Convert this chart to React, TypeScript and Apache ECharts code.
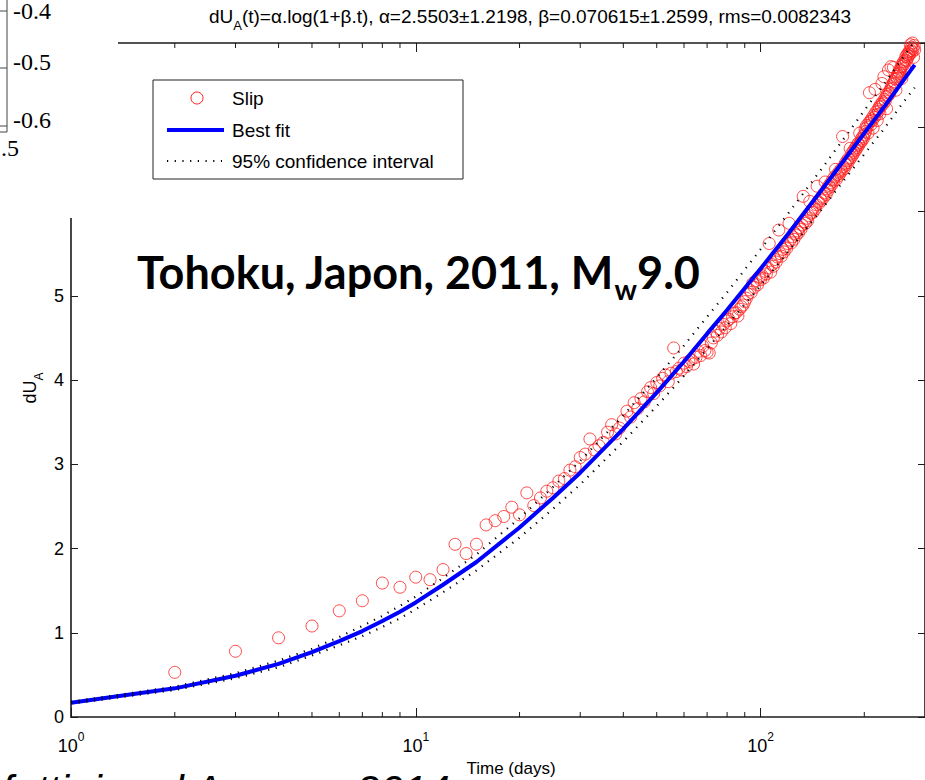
import React, { useEffect, useRef } from 'react';
import * as echarts from 'echarts';

const SANS = "'Liberation Sans', Arial, Helvetica, sans-serif";
const SERIF = "'Liberation Serif', 'Times New Roman', serif";

// Slip observations, one per day starting at day 2
const slipFirstDay = 2;
const slipValues = [
  0.53, 0.78, 0.94, 1.08, 1.26, 1.38, 1.59, 1.54, 1.66,
  1.63, 1.75, 2.05, 1.94, 2.05, 2.28, 2.33, 2.38, 2.49, 2.40,
  2.66, 2.51, 2.60, 2.68, 2.72, 2.80, 2.83, 2.93, 2.97, 3.08,
  3.12, 3.30, 3.17, 3.22, 3.26, 3.38, 3.47, 3.36, 3.43, 3.52,
  3.63, 3.56, 3.73, 3.66, 3.78, 3.74, 3.86, 3.91, 3.84, 3.97,
  3.93, 4.02, 4.06, 3.98, 4.08, 4.38, 4.10, 4.14, 4.12, 4.20,
  4.16, 4.22, 4.24, 4.19, 4.27, 4.34, 4.29, 4.40, 4.35, 4.33,
  4.32, 4.44, 4.50, 4.58, 4.53, 4.61, 4.57, 4.66, 4.62, 4.70,
  4.72, 4.67, 4.75, 4.79, 4.80, 4.76, 4.84, 4.87, 4.89, 4.93,
  4.97, 5.02, 5.07, 5.04, 5.15, 5.10, 5.18, 5.13, 5.22, 5.19,
  5.24, 5.21, 5.29, 5.26, 5.33, 5.62, 5.28, 5.37, 5.35, 5.43,
  5.40, 5.46, 5.78, 5.50, 5.47, 5.55, 5.52, 5.58, 5.56, 5.62,
  5.86, 5.66, 5.63, 5.70, 5.67, 5.74, 5.72, 5.77, 5.75, 5.81,
  5.79, 5.84, 6.18, 5.88, 5.86, 5.92, 5.89, 5.95, 6.12, 5.98,
  6.02, 5.99, 6.05, 6.03, 6.08, 6.30, 6.12, 6.10, 6.15, 6.13,
  6.18, 6.16, 6.22, 6.35, 6.20, 6.27, 6.25, 6.31, 6.29, 6.34,
  6.32, 6.38, 6.36, 6.41, 6.50, 6.38, 6.44, 6.42, 6.47, 6.45,
  6.50, 6.48, 6.89, 6.53, 6.51, 6.57, 6.55, 6.60, 6.58, 6.63,
  6.61, 6.75, 6.64, 6.69, 6.67, 6.72, 6.70, 6.75, 6.73, 6.78,
  6.76, 6.81, 6.79, 6.93, 6.82, 6.86, 6.84, 6.89, 6.87, 6.91,
  6.98, 6.95, 7.02, 7.00, 6.93, 7.05, 7.41, 7.07, 7.03, 7.10,
  7.08, 6.99, 7.14, 7.12, 7.45, 7.18, 7.15, 7.08, 7.21, 7.19,
  7.24, 7.16, 7.27, 7.25, 7.52, 7.30, 7.28, 7.60, 7.33, 7.31,
  7.36, 7.22, 7.39, 7.37, 7.68, 7.42, 7.40, 7.45, 7.72, 7.48,
  7.46, 7.51, 7.71, 7.54, 7.52, 7.57, 7.44, 7.60, 7.58, 7.63,
  7.61, 7.66, 7.64, 7.69, 7.67, 7.72, 7.58, 7.75, 7.73, 7.78,
  7.76, 7.70, 7.80, 7.84, 7.79, 7.86, 7.82, 7.88, 7.85, 7.90,
  7.87, 7.98, 7.91, 7.95, 7.89, 8.00, 7.93, 7.83, 7.97, 7.92,
];

// Best fit and 95% confidence interval curves
const fitDays = [1, 2, 3, 4, 5, 6, 7, 8, 9, 10, 12, 15, 20, 25, 30, 40, 50, 60, 70, 80, 100, 120, 150, 180, 200, 230, 260, 280];
const fitValues = [0.17, 0.34, 0.49, 0.63, 0.77, 0.90, 1.02, 1.14, 1.25, 1.36, 1.57, 1.84, 2.25, 2.60, 2.90, 3.42, 3.85, 4.22, 4.55, 4.83, 5.32, 5.73, 6.25, 6.68, 6.93, 7.26, 7.56, 7.74];
const ciUpper = [0.18, 0.36, 0.52, 0.67, 0.81, 0.95, 1.08, 1.20, 1.32, 1.43, 1.65, 1.93, 2.36, 2.73, 3.04, 3.58, 4.03, 4.41, 4.75, 5.04, 5.55, 5.97, 6.50, 6.94, 7.20, 7.53, 7.84, 8.02];
const ciLower = [0.16, 0.32, 0.46, 0.59, 0.73, 0.85, 0.96, 1.07, 1.17, 1.28, 1.48, 1.74, 2.13, 2.47, 2.76, 3.27, 3.69, 4.05, 4.37, 4.65, 5.12, 5.52, 6.02, 6.44, 6.68, 7.00, 7.30, 7.47];

// Axis settings
const xMin = 1;
const xMax = 300;
const yMin = 0;
const yMax = 8;
const yLabelMax = 5;
const xMinorTicks = [2, 3, 4, 5, 6, 7, 8, 9, 20, 30, 40, 50, 60, 70, 80, 90, 200];

// Inset figure fragment (top-left)
const insetTickLabels = ['-0.4', '-0.5', '-0.6'];
const insetTickY = [11, 68, 126];
const insetLabelY = [11, 62, 120];

const titleMain = 'dU';
const titleSub = 'A';
const titleRest = '(t)=\u03b1.log(1+\u03b2.t), \u03b1=2.5503\u00b11.2198, \u03b2=0.070615\u00b11.2599, rms=0.0082343';
const legendLabels = ['Slip', 'Best fit', '95% confidence interval'];

export default function App() {
  const ref = useRef<HTMLDivElement>(null);

  useEffect(() => {
    if (!ref.current) return;
    const chart = echarts.init(ref.current, undefined, { renderer: 'svg' });

    const slipData = slipValues.map((v, i) => [slipFirstDay + i, v]);
    const fitData = fitDays.map((d, i) => [d, fitValues[i]]);
    const upData = fitDays.map((d, i) => [d, ciUpper[i]]);
    const loData = fitDays.map((d, i) => [d, ciLower[i]]);
    const minorData = xMinorTicks.map((d) => [d, 0]);

    const axisColor = '#1a1a1a';
    const dotted = [1.2, 6.5];
    const xLabelFormatter = (v: number) => {
      const e = Math.round(Math.log10(v));
      if (Math.abs(Math.pow(10, e) - v) > 1e-6) return '';
      return `{b|10}{s|${e}}`;
    };

    const minorTickRender = (top: boolean) => (params: any, api: any) => {
      const p = api.coord([api.value(0), top ? yMax : yMin]);
      const len = 5;
      return {
        type: 'line',
        shape: { x1: p[0], y1: p[1], x2: p[0], y2: top ? p[1] + len : p[1] - len },
        style: { stroke: axisColor, lineWidth: 1 },
      };
    };

    const baseX = {
      type: 'log',
      logBase: 10,
      min: xMin,
      max: xMax,
      splitLine: { show: false },
      axisLine: { show: true, onZero: false, lineStyle: { color: axisColor, width: 1.6 } },
      axisTick: { show: true, inside: true, length: 9, lineStyle: { color: axisColor, width: 1 } },
    };
    const baseY = {
      type: 'value',
      min: yMin,
      max: yMax,
      interval: 1,
      splitLine: { show: false },
      axisLine: { show: true, onZero: false, lineStyle: { color: axisColor, width: 1.6 } },
      axisTick: { show: true, inside: true, length: 7, lineStyle: { color: axisColor, width: 1 } },
    };

    const legendX = 153;
    const legendY = 80;

    chart.setOption({
      animation: false,
      backgroundColor: '#ffffff',
      grid: { left: 71, top: 43, width: 858, height: 674, containLabel: false },
      xAxis: [
        {
          ...baseX,
          position: 'bottom',
          axisLabel: {
            show: true,
            margin: 14,
            showMaxLabel: false,
            formatter: xLabelFormatter,
            rich: {
              b: { fontSize: 18, fontFamily: SANS, color: '#000', verticalAlign: 'top', lineHeight: 20, padding: [6, 0, 0, 0] },
              s: { fontSize: 12, fontFamily: SANS, color: '#000', verticalAlign: 'top', lineHeight: 14 },
            },
          },
        },
        { ...baseX, position: 'top', axisLabel: { show: false } },
      ],
      yAxis: [
        {
          ...baseY,
          position: 'left',
          axisLabel: {
            show: true,
            margin: 7,
            fontSize: 18,
            fontFamily: SANS,
            color: '#000',
            formatter: (v: number) => (v <= yLabelMax ? String(v) : ''),
          },
        },
        { ...baseY, position: 'right', axisLabel: { show: false } },
      ],
      series: [
        {
          name: 'Slip',
          type: 'scatter',
          data: slipData,
          symbol: 'circle',
          symbolSize: 12,
          itemStyle: { color: 'rgba(0,0,0,0)', borderColor: '#ff1f1f', borderWidth: 1 },
          z: 2,
        },
        {
          name: 'Best fit',
          type: 'line',
          data: fitData,
          showSymbol: false,
          lineStyle: { color: '#0000ff', width: 4 },
          z: 3,
        },
        {
          name: 'CI upper',
          type: 'line',
          data: upData,
          showSymbol: false,
          lineStyle: { color: '#000', width: 2.2, type: dotted },
          z: 4,
        },
        {
          name: 'CI lower',
          type: 'line',
          data: loData,
          showSymbol: false,
          lineStyle: { color: '#000', width: 2.2, type: dotted },
          z: 4,
        },
        { type: 'custom', data: minorData, renderItem: minorTickRender(false), z: 5, silent: true },
        { type: 'custom', data: minorData, renderItem: minorTickRender(true), z: 5, silent: true },
      ],
      graphic: [
        // Title
        {
          type: 'text',
          x: 530,
          y: 7,
          z: 100,
          style: {
            text: `{m|${titleMain}}{s|${titleSub}}{m|${titleRest}}`,
            align: 'center',
            verticalAlign: 'top',
            rich: {
              m: { fontSize: 19, fontFamily: SANS, fill: '#000', color: '#000', lineHeight: 22, verticalAlign: 'top' },
              s: { fontSize: 13, fontFamily: SANS, fill: '#000', color: '#000', lineHeight: 22, verticalAlign: 'top', padding: [12, 0, 0, 0] },
            },
          },
        },
        // Legend box
        {
          type: 'rect',
          z: 100,
          shape: { x: legendX, y: legendY, width: 310, height: 99 },
          style: { fill: '#fff', stroke: '#222', lineWidth: 1 },
        },
        {
          type: 'circle',
          z: 101,
          shape: { cx: 197, cy: 98, r: 6 },
          style: { fill: 'none', stroke: '#ff1f1f', lineWidth: 1 },
        },
        {
          type: 'line',
          z: 101,
          shape: { x1: 167, y1: 130, x2: 224, y2: 130 },
          style: { stroke: '#0000ff', lineWidth: 4 },
        },
        {
          type: 'line',
          z: 101,
          shape: { x1: 167, y1: 161, x2: 222, y2: 161 },
          style: { stroke: '#000', lineWidth: 2.2, lineDash: dotted },
        },
        ...legendLabels.map((t, i) => ({
          type: 'text',
          z: 101,
          x: 232,
          y: [98, 130, 161][i],
          style: { text: t, fontSize: 19, fontFamily: SANS, fill: '#000', align: 'left', verticalAlign: 'middle' },
        })),
        // Annotation
        {
          type: 'text',
          x: 137,
          y: 249,
          z: 100,
          style: {
            text: '{m|Tohoku, Japon, 2011, M}{s|w}{m|9.0}',
            align: 'left',
            verticalAlign: 'top',
            rich: {
              m: { fontSize: 45, fontFamily: 'Lato', fontWeight: 'bold', fill: '#000', color: '#000', lineHeight: 50, verticalAlign: 'top' },
              s: { fontSize: 28, fontFamily: 'Lato', fontWeight: 'bold', fill: '#000', color: '#000', lineHeight: 50, verticalAlign: 'top', padding: [26, 0, 0, 0] },
            },
          },
        },
        // Y axis name
        {
          type: 'text',
          x: 31,
          y: 388,
          rotation: Math.PI / 2,
          z: 100,
          style: {
            text: '{m|dU}{s|A}',
            align: 'center',
            verticalAlign: 'middle',
            rich: {
              m: { fontSize: 18, fontFamily: SANS, fill: '#000', color: '#000', lineHeight: 20, verticalAlign: 'top' },
              s: { fontSize: 12, fontFamily: SANS, fill: '#000', color: '#000', lineHeight: 20, verticalAlign: 'top', padding: [12, 0, 0, 0] },
            },
          },
        },
        // X axis name
        {
          type: 'text',
          x: 511,
          y: 768,
          z: 100,
          style: { text: 'Time (days)', fontSize: 17, fontFamily: SANS, fill: '#000', align: 'center', verticalAlign: 'middle' },
        },
        // Inset fragment of another figure (top-left)
        {
          type: 'rect',
          z: 200,
          shape: { x: 0, y: 0, width: 118, height: 218 },
          style: { fill: '#fff' },
        },
        {
          type: 'polyline',
          z: 201,
          shape: { points: [[7, 0], [7, 132], [0, 132]] },
          style: { stroke: '#444', lineWidth: 1, fill: 'none' },
        },
        ...insetTickY.map((y) => ({
          type: 'line',
          z: 201,
          shape: { x1: 0, y1: y, x2: 7, y2: y },
          style: { stroke: '#444', lineWidth: 1 },
        })),
        ...insetTickLabels.map((t, i) => ({
          type: 'text',
          z: 201,
          x: 13,
          y: insetLabelY[i],
          style: { text: t, fontSize: 24, fontFamily: SERIF, fill: '#000', align: 'left', verticalAlign: 'middle' },
        })),
        {
          type: 'text',
          z: 201,
          x: 1,
          y: 148,
          style: { text: '.5', fontSize: 24, fontFamily: SERIF, fill: '#000', align: 'left', verticalAlign: 'middle' },
        },
        // Citation fragment at the bottom
        {
          type: 'text',
          z: 150,
          x: -64,
          y: 790,
          style: {
            text: 'Perfettini and Avouac, 2014',
            fontSize: 42,
            fontStyle: 'italic',
            fontFamily: SANS,
            fill: '#000',
            align: 'left',
            verticalAlign: 'middle',
          },
        },
      ],
    });

    return () => chart.dispose();
  }, []);

  return (
    <div
      ref={ref}
      style={{ position: 'absolute', left: 0, top: 0, width: 925, height: 780, background: '#fff' }}
    />
  );
}
